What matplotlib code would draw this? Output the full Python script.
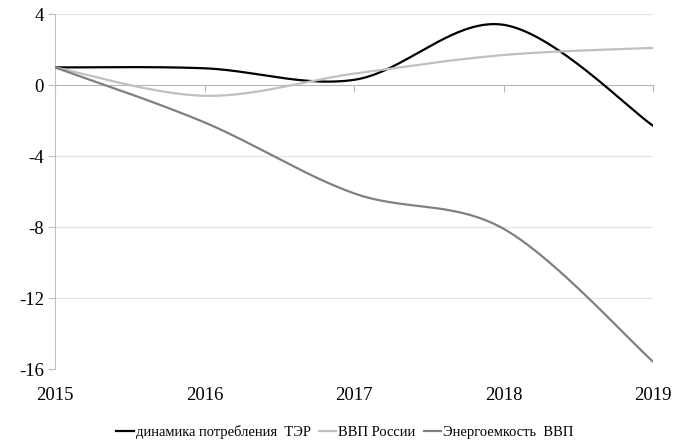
import numpy as np
import matplotlib
matplotlib.use("Agg")
import matplotlib.pyplot as plt
from matplotlib.lines import Line2D

years = [2015, 2016, 2017, 2018, 2019]
consumption = [1.0, 0.95, 0.3, 3.4, -2.3]      # динамика потребления ТЭР
gdp = [1.0, -0.6, 0.65, 1.7, 2.1]              # ВВП России
intensity = [1.0, -2.1, -6.1, -8.1, -15.6]     # Энергоемкость ВВП
labels = ["динамика потребления  ТЭР", "ВВП России", "Энергоемкость  ВВП"]
colors = ["#000000", "#c0c0c0", "#808080"]
yticks = [4, 0, -4, -8, -12, -16]

plt.rcParams['font.family'] = ['Liberation Serif', 'DejaVu Serif']


def smooth(x, y, n=60):
    x = np.asarray(x, float); y = np.asarray(y, float)
    px = np.concatenate([[x[0]], x, [x[-1]]])
    py = np.concatenate([[y[0]], y, [y[-1]]])
    xs, ys = [], []
    t = np.linspace(0, 1, n)
    for i in range(1, len(px) - 2):
        p0 = np.array([px[i], py[i]]); p3 = np.array([px[i + 1], py[i + 1]])
        p1 = p0 + (np.array([px[i + 1], py[i + 1]]) - np.array([px[i - 1], py[i - 1]])) / 6
        p2 = p3 - (np.array([px[i + 2], py[i + 2]]) - np.array([px[i], py[i]])) / 6
        b = ((1 - t) ** 3)[:, None] * p0 + (3 * (1 - t) ** 2 * t)[:, None] * p1 + \
            (3 * (1 - t) * t ** 2)[:, None] * p2 + (t ** 3)[:, None] * p3
        xs.extend(b[:, 0]); ys.extend(b[:, 1])
    return np.array(xs), np.array(ys)


fig = plt.figure(figsize=(6.87, 4.43), dpi=100)
ax = fig.add_axes([0.080, 0.167, 0.871, 0.801])

for v in yticks:
    if v != 0:
        ax.axhline(v, color="#e2e2e2", lw=0.8, zorder=0)

for vals, c in zip([consumption, gdp, intensity], colors):
    sx, sy = smooth(years, vals)
    ax.plot(sx, sy, color=c, lw=1.6, solid_capstyle='round', zorder=3)

ax.set_xlim(2015, 2019)
ax.set_ylim(-16, 4)
ax.set_yticks(yticks)
ax.set_yticklabels([str(v) for v in yticks])
ax.set_xticks(years)
ax.set_xticklabels([str(v) for v in years])
for s in ["top", "right", "bottom"]:
    ax.spines[s].set_visible(False)
ax.spines["left"].set_color("#c0c0c0")
ax.spines["left"].set_linewidth(0.8)
ax.tick_params(axis="y", length=5, width=0.8, color="#c0c0c0", labelsize=13.5, pad=3)
ax.tick_params(axis="x", length=0, labelsize=13.5, pad=13)

# horizontal category axis drawn at y = 0
sec = ax.secondary_xaxis((0 - (-16)) / 20)
sec.set_xticks(years)
sec.set_xticklabels([""] * len(years))
for sp in sec.spines.values():
    sp.set_color("#b8b8b8")
    sp.set_linewidth(0.8)
pos = sec.xaxis.get_ticks_position()
direction = "in" if pos == "top" else "out"
sec.tick_params(axis="x", direction=direction, length=5, width=0.8, color="#b8b8b8")

handles = [Line2D([], [], color=c, lw=1.6) for c in colors]
fig.legend(handles, labels, loc="center", bbox_to_anchor=(0.502, 0.025), ncol=3,
           frameon=False, fontsize=10.5, handlelength=1.2, handletextpad=0.15,
           columnspacing=0.55)

fig.savefig("out.png", dpi=100)
